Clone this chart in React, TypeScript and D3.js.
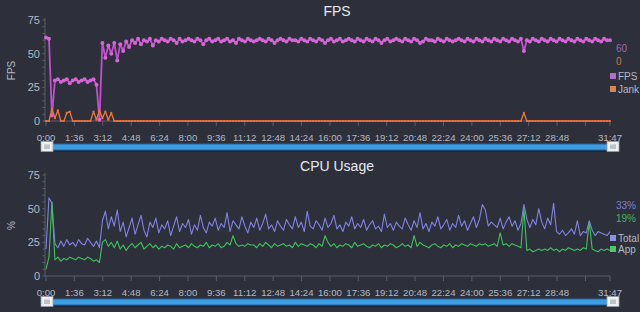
import React from 'react';
import * as d3 from 'd3';

const DURATION_S = 1907;
const xTickLabels = ["0:00","1:36","3:12","4:48","6:24","8:00","9:36","11:12","12:48","14:24","16:00","17:36","19:12","20:48","22:24","24:00","25:36","27:12","28:48","30:24","31:47"];
const hiddenTickLabels = ["30:24"];
const yTickValues = [0, 25, 50, 75];

const fps = [
  62, 61, 4, 30, 31, 29, 30, 31, 28, 30,
  31, 29, 30, 31, 29, 30, 31, 27, 1, 58,
  47, 56, 50, 58, 45, 57, 52, 59, 55, 60,
  58, 61, 57, 60, 59, 61, 56, 60, 59, 61,
  60, 59, 61, 60, 58, 61, 59, 60, 61, 60,
  59, 61, 60, 57, 60, 61, 59, 60, 61, 59,
  60, 61, 59, 60, 58, 61, 60, 59, 61, 60,
  59, 60, 61, 60, 59, 61, 60, 58, 60, 61,
  60, 59, 61, 60, 60, 59, 61, 60, 59, 61,
  60, 59, 61, 60, 58, 60, 61, 59, 60, 61,
  59, 60, 61, 60, 59, 61, 60, 59, 61, 60,
  59, 61, 60, 58, 60, 61, 59, 60, 61, 60,
  59, 61, 60, 59, 61, 60, 58, 59, 61, 60,
  60, 59, 61, 60, 59, 61, 60, 59, 60, 61,
  60, 59, 61, 60, 59, 61, 60, 59, 61, 60,
  59, 61, 60, 59, 61, 60, 59, 61, 60, 59,
  61, 52, 60, 59, 61, 60, 59, 61, 60, 59,
  61, 60, 59, 61, 60, 59, 61, 60, 59, 61,
  60, 59, 61, 60, 59, 61, 60, 59, 61, 60,
  60,
];

const jank = [
  0, 0, 9, 2, 8, 0, 0, 6, 7, 0,
  0, 0, 0, 0, 0, 0, 7, 1, 8, 2,
  7, 1, 6, 0, 0, 0, 0, 0, 0, 0,
  0, 0, 0, 0, 0, 0, 0, 0, 0, 0,
  0, 0, 0, 0, 0, 0, 0, 0, 0, 0,
  0, 0, 0, 0, 0, 0, 0, 0, 0, 0,
  0, 0, 0, 0, 0, 0, 0, 0, 0, 0,
  0, 0, 0, 0, 0, 0, 0, 0, 0, 0,
  0, 0, 0, 0, 0, 0, 0, 0, 0, 0,
  0, 0, 0, 0, 0, 0, 0, 0, 0, 0,
  0, 0, 0, 0, 0, 0, 0, 0, 0, 0,
  0, 0, 0, 0, 0, 0, 0, 0, 0, 0,
  0, 0, 0, 0, 0, 0, 0, 0, 0, 0,
  0, 0, 0, 0, 0, 0, 0, 0, 0, 0,
  0, 0, 0, 0, 0, 0, 0, 0, 0, 0,
  0, 0, 0, 0, 0, 0, 0, 0, 0, 0,
  0, 6, 0, 0, 0, 0, 0, 0, 0, 0,
  0, 0, 0, 0, 0, 0, 0, 0, 0, 0,
  0, 0, 0, 0, 0, 0, 0, 0, 0, 0,
  0,
];

const cpuTotal = [
  20, 58, 54, 24, 21, 26, 22, 27, 23, 25,
  22, 27, 24, 23, 28, 25, 22, 26, 21, 41,
  48, 35, 44, 37, 49, 33, 40, 29, 36, 43,
  31, 38, 45, 34, 29, 40, 36, 43, 32, 38,
  35, 41, 30, 37, 44, 33, 39, 36, 42, 31,
  38, 34, 45, 36, 32, 40, 37, 43, 34, 39,
  36, 47, 33, 41, 38, 35, 44, 37, 32, 40,
  36, 43, 34, 39, 46, 35, 38, 33, 41, 37,
  34, 42, 38, 35, 44, 36, 40, 33, 48, 37,
  35, 41, 38, 34, 43, 36, 39, 45, 35, 38,
  33, 40, 37, 44, 35, 39, 36, 42, 34, 38,
  41, 35, 37, 33, 46, 36, 39, 34, 40, 37,
  35, 43, 38, 34, 41, 36, 47, 35, 39, 33,
  40, 37, 44, 35, 38, 42, 34, 39, 36, 45,
  37, 41, 34, 39, 44, 36, 42, 53, 49, 37,
  40, 38, 36, 43, 35, 40, 44, 37, 41, 34,
  39, 53, 42, 36, 42, 38, 50, 40, 35, 43,
  38, 54, 33, 31, 34, 30, 32, 35, 31, 41,
  30, 33, 32, 41, 34, 30, 33, 32, 31, 30,
  33,
];

const cpuApp = [
  5, 14, 55, 12, 14, 11, 13, 12, 14, 13,
  12, 14, 13, 12, 14, 13, 11, 12, 10, 25,
  27, 22, 25, 21, 26, 20, 23, 19, 22, 24,
  21, 23, 25, 20, 22, 24, 21, 23, 20, 22,
  21, 23, 22, 20, 24, 21, 22, 23, 21, 24,
  22, 21, 23, 22, 25, 21, 23, 22, 24, 21,
  22, 25, 23, 30, 24, 22, 23, 22, 24, 23,
  23, 21, 24, 22, 25, 23, 21, 24, 22, 23,
  24, 22, 23, 21, 25, 22, 24, 23, 22, 24,
  23, 21, 24, 22, 30, 25, 22, 24, 21, 23,
  22, 24, 23, 21, 25, 22, 23, 24, 22, 21,
  23, 22, 24, 21, 23, 22, 24, 23, 21, 22,
  24, 22, 23, 21, 30, 22, 25, 23, 22, 21,
  23, 24, 22, 21, 23, 22, 24, 21, 23, 22,
  24, 23, 22, 24, 23, 22, 24, 23, 24, 22,
  23, 24, 22, 32, 23, 24, 22, 24, 23, 22,
  21, 50, 19, 20, 18, 19, 20, 19, 20, 19,
  21, 19, 20, 18, 20, 19, 21, 20, 19, 20,
  19, 21, 20, 40, 20, 19, 18, 20, 19, 20,
  19,
];

const fpsLegend = { current: "60", label: "FPS" };
const jankLegend = { current: "0", label: "Jank" };
const totalLegend = { current: "33%", label: "Total" };
const appLegend = { current: "19%", label: "App" };

const BG = '#2d303b';
const AXIS = '#5a5e6a';
const TEXT = '#b4b8c2';
const FPS_C = '#c24fcc';
const FPS_DOT = '#d466d6';
const JANK_C = '#e8793a';
const TOTAL_C = '#7f83e2';
const APP_C = '#3fc25c';
const FONT = '"Liberation Sans", Arial, Helvetica, sans-serif';

const parseMS = (s: string) => {
  const [m, sec] = s.split(':').map(Number);
  return m * 60 + sec;
};

function Panel({ top, bottom, title, titleY, yLabel, series, legend, scrollY }: any) {
  const x = d3.scaleLinear().domain([0, DURATION_S]).range([46, 610]);
  const y = d3.scaleLinear().domain([0, 75]).range([bottom, top]);
  const minor = d3.range(0, 76, 5);
  return (
    <g>
      <text x={337} y={titleY} textAnchor="middle" fill="#e6e8ee" fontSize={14} fontFamily={FONT}>{title}</text>
      <text transform={`translate(15,${(top + bottom) / 2}) rotate(-90)`} textAnchor="middle" fill={TEXT} fontSize={10} fontFamily={FONT}>{yLabel}</text>
      {/* y axis */}
      <line x1={45} x2={45} y1={top - 2} y2={bottom} stroke={AXIS} strokeWidth={1} />
      {minor.map((v) => (
        <line key={'m' + v} x1={42.5} x2={45} y1={y(v)} y2={y(v)} stroke={AXIS} strokeWidth={1} />
      ))}
      {yTickValues.map((v) => (
        <text key={'y' + v} x={40} y={y(v) + 4} textAnchor="end" fill={TEXT} fontSize={11} fontFamily={FONT}>{v}</text>
      ))}
      {/* x axis */}
      <line x1={45} x2={610} y1={bottom} y2={bottom} stroke={AXIS} strokeWidth={1} />
      {xTickLabels.map((lab) => {
        const t = parseMS(lab);
        return (
          <g key={lab}>
            <line x1={x(t)} x2={x(t)} y1={bottom} y2={bottom + 5} stroke={AXIS} strokeWidth={1} />
            {!hiddenTickLabels.includes(lab) && (
              <text x={x(t)} y={bottom + 20} textAnchor="middle" fill={TEXT} fontSize={9.6} fontFamily={FONT}>{lab}</text>
            )}
          </g>
        );
      })}
      {/* series */}
      {series.map((s: any, k: number) => {
        const n = s.values.length;
        const tx = (i: number) => x((i * DURATION_S) / (n - 1));
        const line = d3.line<number>().x((_, i) => tx(i)).y((v) => y(v));
        return (
          <g key={k}>
            <path d={line(s.values) || ''} fill="none" stroke={s.color} strokeWidth={s.width} strokeLinejoin="round" />
            {s.dot && s.values.map((v: number, i: number) => (
              <circle key={i} cx={tx(i)} cy={y(v)} r={s.dotR} fill={s.dot} />
            ))}
          </g>
        );
      })}
      {/* legend */}
      {legend.map((l: any, i: number) => (
        <text key={'lv' + i} x={616} y={l.vy} fill={l.color} fontSize={10} fontFamily={FONT} opacity={0.85}>{l.current}</text>
      ))}
      {legend.map((l: any, i: number) => (
        <g key={'lk' + i}>
          <rect x={610} y={l.ky - 3} width={6} height={6} fill={l.color} />
          <text x={618} y={l.ky + 3.5} fill={TEXT} fontSize={10} fontFamily={FONT}>{l.label}</text>
        </g>
      ))}
      {/* scrollbar */}
      <rect x={40} y={scrollY + 5} width={580} height={3} fill="#1c2433" />
      <rect x={52} y={scrollY} width={557} height={6} fill="#3d9de3" stroke="#25639a" strokeWidth={1} />
      {[41, 607].map((hx) => (
        <g key={hx}>
          <rect x={hx} y={scrollY - 2.5} width={12} height={10} fill="#eef0f2" stroke="#9aa0a8" strokeWidth={0.8} />
          {[4, 6, 8].map((dx) => (
            <line key={dx} x1={hx + dx} x2={hx + dx} y1={scrollY + 0.5} y2={scrollY + 5} stroke="#7a7f88" strokeWidth={0.8} />
          ))}
        </g>
      ))}
    </g>
  );
}

export default function App() {
  return (
    <svg width={640} height={312} style={{ position: 'absolute', left: 0, top: 0, display: 'block' }}>
      <rect x={0} y={0} width={640} height={312} fill={BG} />
      <Panel
        top={20}
        bottom={121}
        title="FPS"
        titleY={16}
        yLabel="FPS"
        scrollY={144}
        series={[
          { values: fps, color: FPS_C, width: 1.8, dot: FPS_DOT, dotR: 2 },
          { values: jank, color: JANK_C, width: 1.3, dot: '#ff6a3a', dotR: 1.1 },
        ]}
        legend={[
          { ...fpsLegend, color: '#b46ec4', vy: 52, ky: 76 },
          { ...jankLegend, color: '#d88450', vy: 65, ky: 89 },
        ]}
      />
      <Panel
        top={175}
        bottom={276}
        title="CPU Usage"
        titleY={171}
        yLabel="%"
        scrollY={299}
        series={[
          { values: cpuTotal, color: TOTAL_C, width: 1.1 },
          { values: cpuApp, color: APP_C, width: 1.1 },
        ]}
        legend={[
          { ...totalLegend, color: '#8b8fe6', vy: 209, ky: 238 },
          { ...appLegend, color: '#4cc868', vy: 222, ky: 249 },
        ]}
      />
    </svg>
  );
}
